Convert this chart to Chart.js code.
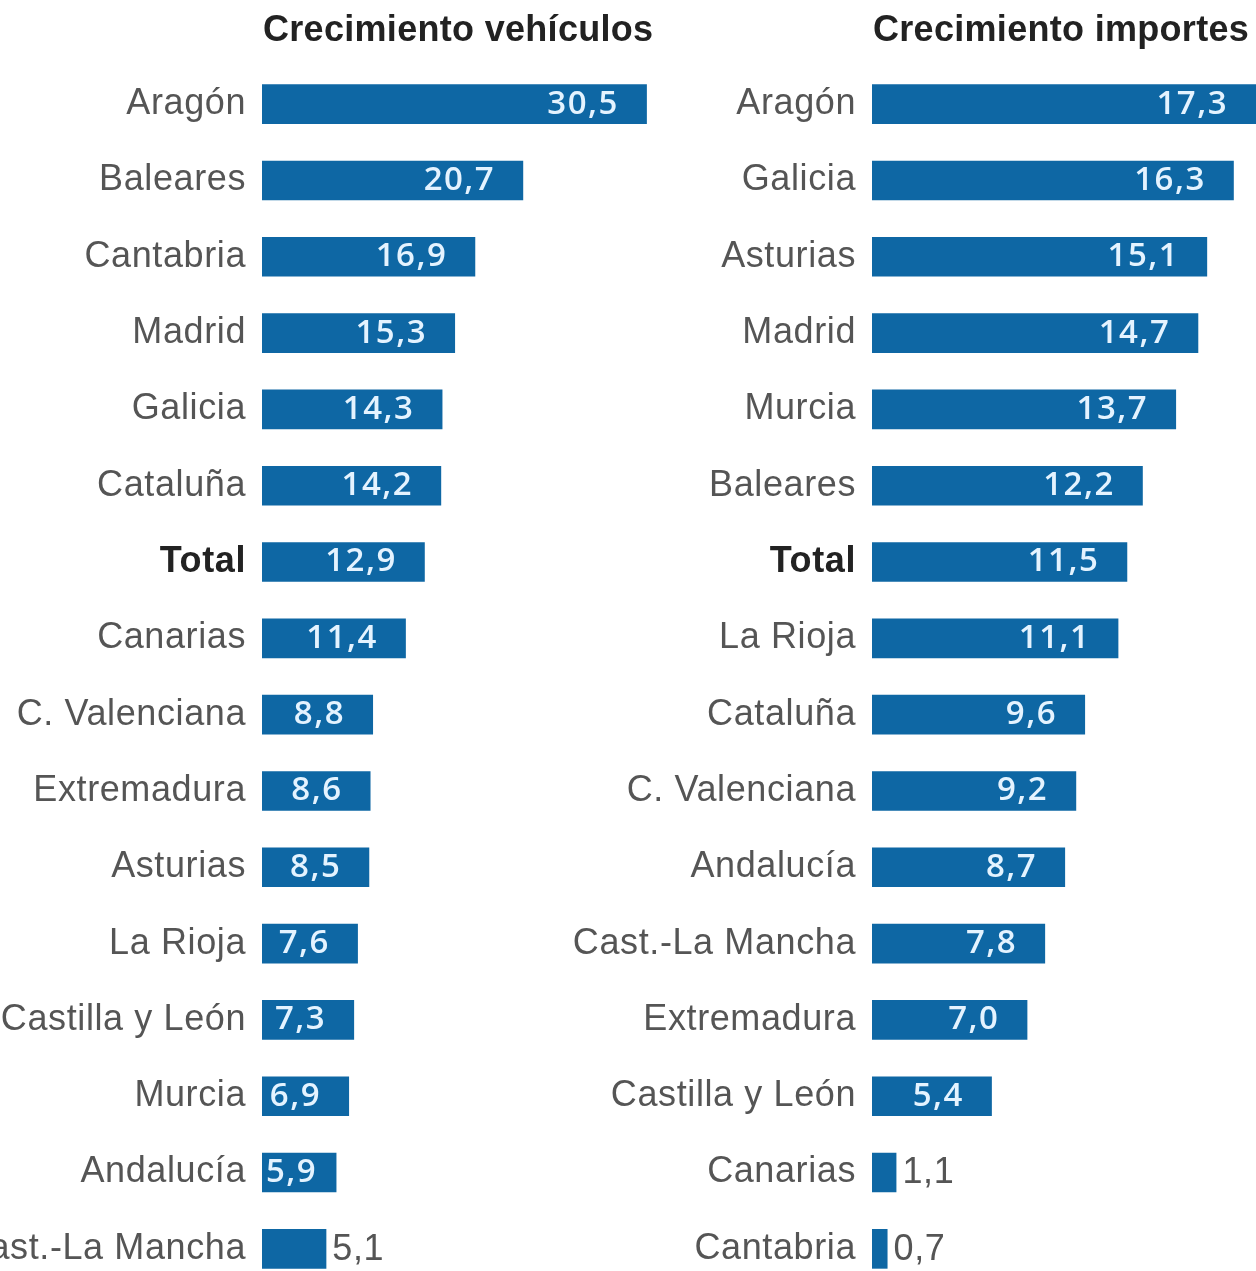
<!DOCTYPE html>
<html>
<head>
<meta charset="utf-8">
<script src="https://cdn.jsdelivr.net/npm/chart.js@4/dist/chart.umd.min.js"></script>
<style>
  html, body { margin: 0; padding: 0; background: #fff; overflow: hidden; }
  #wrap { position: relative; width: 1256px; height: 1271px; overflow: hidden; }
  #vehChart { position: absolute; left: 0; top: 0; }
  #impChart { position: absolute; left: 540px; top: 0; }
</style>
</head>
<body>
<div id="wrap">
  <canvas id="vehChart" width="660" height="1327"></canvas>
  <canvas id="impChart" width="716" height="1327"></canvas>
</div>
<script>
// Crecimiento vehículos (%)
const vehRegions = ["Aragón", "Baleares", "Cantabria", "Madrid", "Galicia", "Cataluña", "Total", "Canarias",
  "C. Valenciana", "Extremadura", "Asturias", "La Rioja", "Castilla y León", "Murcia", "Andalucía", "Cast.-La Mancha"];
const vehValues = [30.5, 20.7, 16.9, 15.3, 14.3, 14.2, 12.9, 11.4, 8.8, 8.6, 8.5, 7.6, 7.3, 6.9, 5.9, 5.1];

// Crecimiento importes (%)
const impRegions = ["Aragón", "Galicia", "Asturias", "Madrid", "Murcia", "Baleares", "Total", "La Rioja",
  "Cataluña", "C. Valenciana", "Andalucía", "Cast.-La Mancha", "Extremadura", "Castilla y León", "Canarias", "Cantabria"];
const impValues = [17.3, 16.3, 15.1, 14.7, 13.7, 12.2, 11.5, 11.1, 9.6, 9.2, 8.7, 7.8, 7.0, 5.4, 1.1, 0.7];

const barColor = "#0e67a4";
const fontFamily = '"Liberation Sans", Arial, sans-serif';
const valueFamily = '"Open Sans", "DejaVu Sans", sans-serif';

// draws the panel title and the value on each bar
const panelDeco = {
  id: "panelDeco",
  beforeDraw(chart) {
    chart.ctx.letterSpacing = "0.6px";
  },
  afterDatasetsDraw(chart, args, opts) {
    const ctx = chart.ctx;
    const area = chart.chartArea;
    ctx.save();
    ctx.letterSpacing = "0.3px";
    ctx.font = "bold 36px " + fontFamily;
    ctx.fillStyle = "#222";
    ctx.textAlign = "left";
    ctx.textBaseline = "middle";
    ctx.fillText(opts.title, area.left + 1, 31);

    const meta = chart.getDatasetMeta(0);
    meta.data.forEach((bar, i) => {
      const v = chart.data.datasets[0].data[i];
      const txt = v.toFixed(1).replace(".", ",");
      const w = bar.x - bar.base;
      if (w > 70) {
        ctx.letterSpacing = "1.5px";
        ctx.font = "600 33px " + valueFamily;
        const tw = ctx.measureText(txt).width;
        ctx.fillStyle = "#e4f3ff";
        ctx.textAlign = "right";
        ctx.fillText(txt, Math.max(bar.x - 28, bar.base + 4 + tw), bar.y);
      } else {
        ctx.letterSpacing = "0.6px";
        ctx.font = "36px " + fontFamily;
        ctx.fillStyle = "#555";
        ctx.textAlign = "left";
        ctx.fillText(txt, bar.x + 6, bar.y + 1);
      }
    });
    ctx.restore();
  },
  afterDraw(chart) {
    chart.ctx.letterSpacing = "0px";
  }
};

function makeChart(id, labels, values, title, axisWidth, xMax) {
  return new Chart(document.getElementById(id).getContext("2d"), {
    type: "bar",
    data: {
      labels: labels,
      datasets: [{
        data: values,
        backgroundColor: barColor,
        borderWidth: 0,
        categoryPercentage: 1,
        barPercentage: 0.52,
      }],
    },
    plugins: [panelDeco],
    options: {
      indexAxis: "y",
      responsive: false,
      animation: false,
      layout: { padding: { top: 66, bottom: 40, left: 0, right: 0 } },
      plugins: {
        legend: { display: false },
        tooltip: { enabled: false },
        panelDeco: { title: title },
      },
      scales: {
        x: {
          display: false,
          min: 0,
          max: xMax,
        },
        y: {
          grid: { display: false, drawTicks: false },
          border: { display: false },
          afterFit: (scale) => { scale.width = axisWidth; },
          ticks: {
            padding: 16,
            autoSkip: false,
            font: (c) => ({
              family: fontFamily,
              size: 36,
              weight: c.tick && c.tick.label === "Total" ? "bold" : "normal",
            }),
            color: (c) => (c.tick && c.tick.label === "Total" ? "#222" : "#555"),
          },
        },
      },
    },
  });
}

makeChart("vehChart", vehRegions, vehValues, "Crecimiento vehículos", 262, 31.54);
makeChart("impChart", impRegions, impValues, "Crecimiento importes", 332, 17.3);
</script>
</body>
</html>
